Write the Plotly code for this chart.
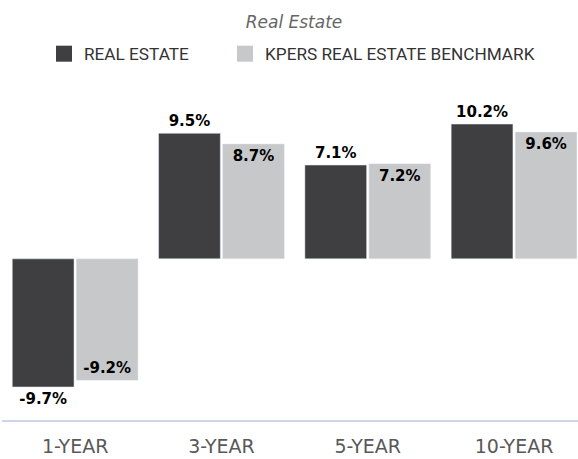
import plotly.graph_objects as go

# Data
periods = ["1-YEAR", "3-YEAR", "5-YEAR", "10-YEAR"]
real_estate = [-9.7, 9.5, 7.1, 10.2]
benchmark = [-9.2, 8.7, 7.2, 9.6]
series_names = ["REAL ESTATE", "KPERS REAL ESTATE BENCHMARK"]

dark = "#3f3f41"
light = "#c7c8ca"
label_font = dict(family="DejaVu Sans", size=15, color="#000000", weight="bold")

fig = go.Figure()

# Dark bars: labels sit outside the bar end
fig.add_trace(go.Bar(
    x=periods,
    y=real_estate,
    name=series_names[0],
    marker=dict(color=dark),
    texttemplate="%{y:.1f}%",
    textposition="outside",
    outsidetextfont=label_font,
    cliponaxis=False,
    showlegend=False,
    hoverinfo="skip"
))

# Light bars: labels sit inside, at the bar end
fig.add_trace(go.Bar(
    x=periods,
    y=benchmark,
    name=series_names[1],
    marker=dict(color=light),
    texttemplate="%{y:.1f}%",
    textposition="inside",
    insidetextanchor="end",
    insidetextfont=label_font,
    textangle=0,
    cliponaxis=False,
    showlegend=False,
    hoverinfo="skip"
))

# Legend entries (one legend each so the spacing can match the reference)
legend_ids = ["legend", "legend2"]
for name, color, lg in zip(series_names, [dark, light], legend_ids):
    fig.add_trace(go.Scatter(
        x=[None], y=[None],
        mode="markers",
        name=name,
        legend=lg,
        marker=dict(symbol="square", size=16, color=color),
        hoverinfo="skip"
    ))

legend_style = dict(
    orientation="h",
    xref="container",
    xanchor="left",
    y=1 - 54 / 459,
    yref="container",
    yanchor="middle",
    font=dict(family="Roboto", size=17.2, color="#333333"),
    bgcolor="rgba(0,0,0,0)"
)

fig.update_layout(
    width=578,
    height=459,
    barmode="group",
    bargap=0.125,
    bargroupgap=0.035,
    title=dict(
        text="Real Estate",
        x=294 / 578,
        xref="container",
        xanchor="center",
        y=1 - 22 / 459,
        yref="container",
        yanchor="middle",
        font=dict(family="DejaVu Sans", size=17, color="#666666", style="italic")
    ),
    legend=dict(legend_style, x=44 / 578),
    legend2=dict(legend_style, x=225 / 578),
    xaxis=dict(
        range=[-0.5, 3.437],
        showgrid=False,
        showline=True,
        linecolor="#cdd6e9",
        linewidth=2,
        ticks="outside",
        ticklen=8,
        tickcolor="rgba(0,0,0,0)",
        tickfont=dict(family="DejaVu Sans", size=19, color="#595959"),
        automargin=False,
        fixedrange=True
    ),
    yaxis=dict(
        range=[-12.2, 12.4],
        visible=False,
        showgrid=False,
        zeroline=False,
        automargin=False,
        fixedrange=True
    ),
    margin=dict(l=2, r=0, t=95, b=39),
    paper_bgcolor="white",
    plot_bgcolor="white",
    font=dict(family="DejaVu Sans")
)

fig.write_html(
    "out.html",
    config={"displayModeBar": False},
    post_script="document.body.style.margin='0';"
)
